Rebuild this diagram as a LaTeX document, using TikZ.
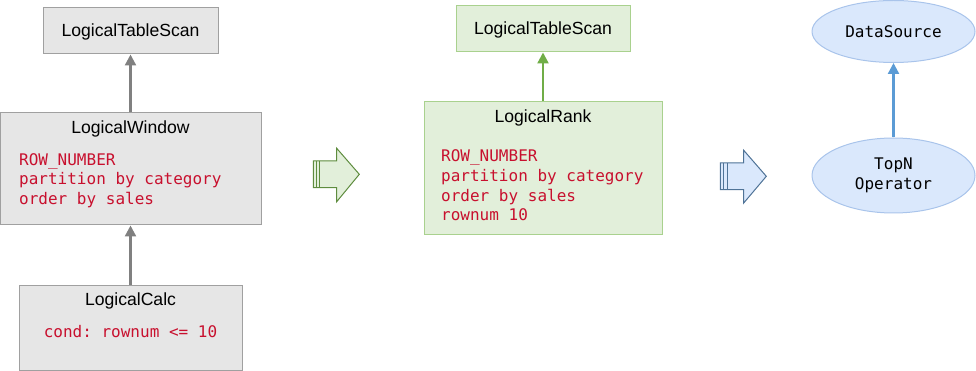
\documentclass[tikz,border=0pt]{standalone}
\usepackage{fontspec}
\setmainfont{Liberation Sans}
\newfontfamily\codefont{DejaVu Sans Mono}
\usetikzlibrary{arrows.meta,shapes.geometric}
\definecolor{grayfill}{HTML}{E6E6E6}
\definecolor{graydraw}{HTML}{A0A0A0}
\definecolor{greenfill}{HTML}{E2EFDA}
\definecolor{greendraw}{HTML}{A9D18E}
\definecolor{bluefill}{HTML}{DAE8FC}
\definecolor{bluedraw}{HTML}{A9C4EB}
\definecolor{codered}{HTML}{C8102E}
\definecolor{grayarrow}{HTML}{808080}
\definecolor{greenarrow}{HTML}{70AD47}
\definecolor{bluearrow}{HTML}{5B9BD5}
\definecolor{fatgreen}{HTML}{5E8C3E}
\definecolor{fatblue}{HTML}{4F7397}
\tikzset{
  box/.style={rectangle, line width=1pt, inner sep=0pt},
  graybox/.style={box, draw=graydraw, fill=grayfill},
  greenbox/.style={box, draw=greendraw, fill=greenfill},
  blueell/.style={ellipse, draw=bluedraw, fill=bluefill, line width=1pt, inner sep=0pt},
  title/.style={font=\fontsize{17.6}{20}\selectfont, inner sep=0pt},
  code/.style={font=\codefont\frenchspacing\fontsize{16}{19.6}\selectfont, text=codered, align=left, inner sep=0pt},
  ecode/.style={font=\codefont\fontsize{16}{20}\selectfont, text=black, align=center},
  conn/.style={line width=2.3pt, -{Triangle[length=11pt,width=11pt]}},
}
\begin{document}
\begin{tikzpicture}[x=1pt,y=-1pt]
\useasboundingbox (0,0) rectangle (976,371);
% left column
\node[graybox, minimum width=175pt, minimum height=46pt] (lts1) at (130.5,31) {};
\node[title] (lts1t) at (130.5,32) {LogicalTableScan};
\node[graybox, minimum width=261pt, minimum height=112pt] (win) at (131,169) {};
\node[title] (wint) at (130.5,129) {LogicalWindow};
\node[code, anchor=west] (winc) at (19,180.5) {ROW\_NUMBER\\partition by category\\order by sales};
\node[graybox, minimum width=223pt, minimum height=85pt] (calc) at (130.5,327.5) {};
\node[title] (calct) at (130.5,301) {LogicalCalc};
\node[code, anchor=center] (calcc) at (130.5,332) {cond: rownum <= 10};
\draw[conn, grayarrow] (calc.north -| calct) -- (win.south -| calct);
\draw[conn, grayarrow] (win.north -| calct) -- (lts1.south);
% middle column
\node[greenbox, minimum width=174pt, minimum height=46pt] (lts2) at (543,29) {};
\node[title] (lts2t) at (543,30) {LogicalTableScan};
\node[greenbox, minimum width=238pt, minimum height=133pt] (rank) at (543,168.5) {};
\node[title] (rankt) at (543,118) {LogicalRank};
\node[code, anchor=west] (rankc) at (441,185.5) {ROW\_NUMBER\\partition by category\\order by sales\\rownum 10};
\draw[conn, greenarrow] (rank.north) -- (lts2.south);
% right column
\node[blueell, minimum width=163pt, minimum height=62pt] (ds) at (893.5,31.5) {};
\node[ecode] (dst) at (893.5,32) {DataSource};
\node[blueell, minimum width=163pt, minimum height=75pt] (topn) at (893.5,175.5) {};
\node[ecode] (topnt) at (893.5,175) {TopN\\Operator};
\draw[conn, bluearrow] (topn.north) -- (ds.south);
% fat arrows
\draw[fatgreen, fill=greenfill, line width=1pt, line join=miter]
  (313.3,161) -- (336.7,161) -- (336.7,148.3) -- (359.3,174.3) -- (336.7,201.7) -- (336.7,187.7) -- (313.3,187.7) -- cycle;
\draw[fatgreen, line width=1pt] (316,161) -- (316,187.7) (319.5,161) -- (319.5,187.7);
\draw[fatblue, fill=bluefill, line width=1pt, line join=miter]
  (720.3,163) -- (743.7,163) -- (743.7,150.3) -- (766.3,176.3) -- (743.7,203) -- (743.7,189.7) -- (720.3,189.7) -- cycle;
\draw[fatblue, line width=1pt] (723.5,163) -- (723.5,189.7) (727.3,163) -- (727.3,189.7);
\end{tikzpicture}
\end{document}
